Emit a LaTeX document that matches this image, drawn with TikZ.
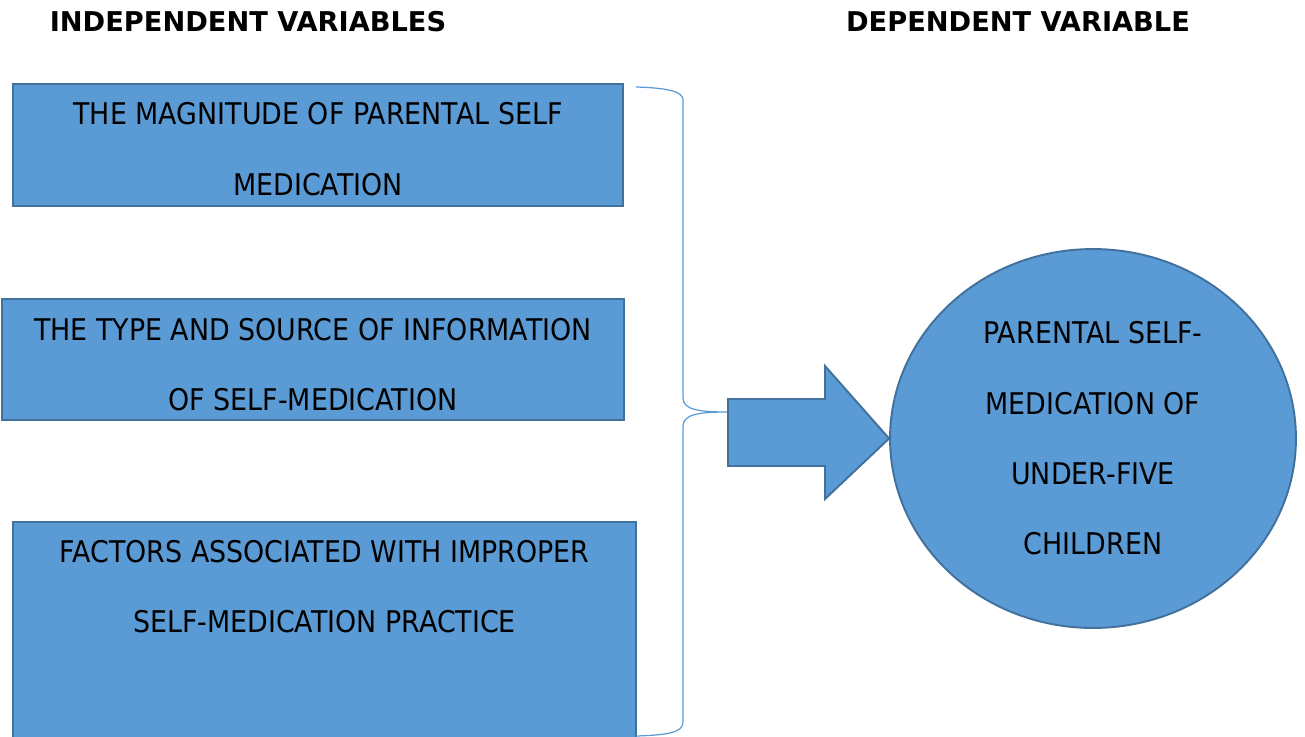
\documentclass[tikz,border=0pt]{standalone}
\usepackage{fontspec}
\setmainfont{DejaVu Sans}[FakeStretch=0.9]
\newfontfamily\headfont{DejaVu Sans}
\usepackage{tikz}
\usetikzlibrary{shapes.geometric, positioning, calc}

\definecolor{officeblue}{HTML}{5B9BD5}
\definecolor{officeedge}{HTML}{41719C}

\begin{document}
\begin{tikzpicture}[
    x=0.02cm, y=-0.02cm,
    varbox/.style={rectangle, draw=officeedge, fill=officeblue, line width=1.1pt, inner sep=0pt},
    boxtext/.style={align=center, font=\fontsize{17}{40}\selectfont},
    heading/.style={font=\headfont\fontsize{15.5}{18}\selectfont\bfseries},
    bracket/.style={draw=officeblue, line width=0.7pt},
]
\useasboundingbox (0,0) rectangle (1305,737);

% column headings
\node[heading] (indep) at (248,22) {INDEPENDENT VARIABLES};
\node[heading] (dep) at (1018,22) {DEPENDENT VARIABLE};

% independent variables
\node[varbox, minimum width=12.2cm, minimum height=2.44cm] (mag) at (318,145) {};
\node[varbox, minimum width=12.44cm, minimum height=2.42cm] (info) at (313,359.5) {};
\node[varbox, minimum width=12.46cm, minimum height=4.76cm] (fact) at (324.5,641) {};

\node[boxtext] (magtext) at ($(mag.center)+(0,4)$) {THE MAGNITUDE OF PARENTAL SELF\\MEDICATION};
\node[boxtext] (infotext) at ($(info.center)+(0,5)$) {THE TYPE AND SOURCE OF INFORMATION\\OF SELF-MEDICATION};
\node[boxtext] (facttext) at (324.5,586.5) {FACTORS ASSOCIATED WITH IMPROPER\\SELF-MEDICATION PRACTICE};

% dependent variable
\node[ellipse, draw=officeedge, fill=officeblue, line width=1.1pt, minimum width=8.12cm, minimum height=7.58cm, inner sep=0pt] (dv) at (1093,438.5) {};
\node[boxtext] (dvtext) at (dv.center) {PARENTAL SELF-\\MEDICATION OF\\UNDER-FIVE\\CHILDREN};

% brace gathering the three boxes
\coordinate (bracetop) at (636,87);
\coordinate (bracebot) at (636,736);
\coordinate (bracetip) at (728,412);
\draw[bracket] (bracetop) .. controls (670,88) and (683,92) .. (683,100)
    -- (683,398) .. controls (683,410) and (700,412) .. (bracetip)
    .. controls (700,412) and (683,414) .. (683,426)
    -- (683,722) .. controls (683,732) and (670,735) .. (bracebot);

% block arrow into the dependent variable
\draw[draw=officeedge, fill=officeblue, line width=1.1pt, line join=miter]
    (728,399) -- (825,399) -- (825,366) -- (dv.west) -- (825,499) -- (825,466) -- (728,466) -- cycle;
\end{tikzpicture}
\end{document}
